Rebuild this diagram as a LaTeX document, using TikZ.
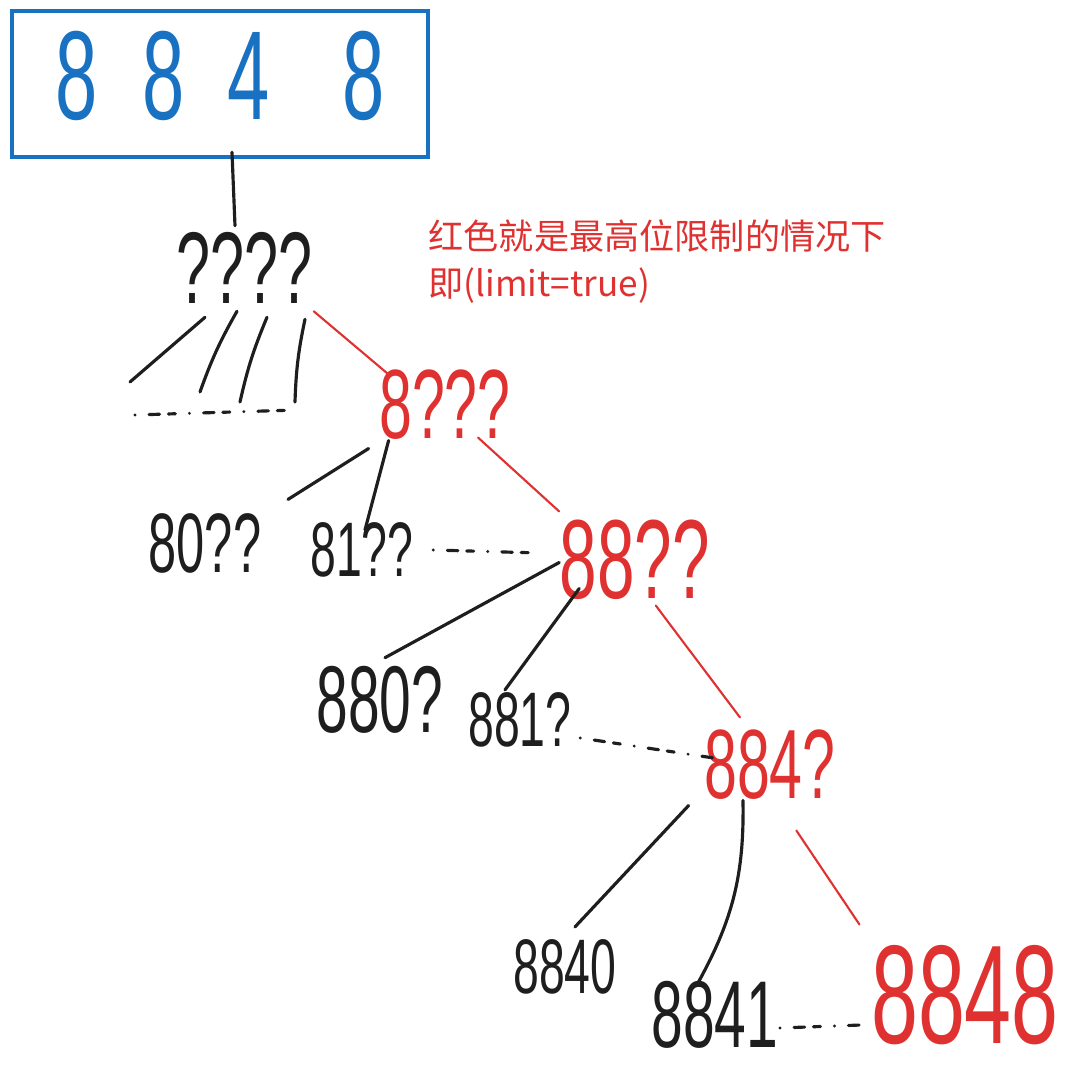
\documentclass[tikz,border=0pt]{standalone}
\usepackage{fontspec}
\setmainfont{Liberation Sans}
\newfontfamily\cjk{Noto Sans CJK SC}
\usepackage{graphicx}
\usetikzlibrary{calc}
\definecolor{inkblack}{HTML}{1E1E1E}
\definecolor{inkred}{HTML}{E03131}
\definecolor{inkblue}{HTML}{1971C2}
\newcommand{\sq}[1]{\scalebox{0.6}[1]{#1}}

\begin{document}
\begin{tikzpicture}[x=0.1mm, y=-0.1mm,
        num/.style={inner sep=0pt, text=inkblack, font=\fontsize{#1}{#1}\selectfont},
        rnum/.style={num=#1, text=inkred},
        tline/.style={draw=inkblack, line width=0.9pt, line cap=round},
        rline/.style={draw=inkred, line width=0.6pt, line cap=round},
        dline/.style={tline, dash pattern=on 0pt off 4pt on 3pt off 2.5pt on 2pt off 4pt}]

        \useasboundingbox (0,0) rectangle (1069,1068);

        \node (root) [draw=inkblue, line width=1.2pt, inner sep=2mm, minimum width=41.6mm, minimum height=14.3mm, text depth=1.8mm, text=inkblue, font=\fontsize{36}{36}\selectfont] at (220,84) {\sq{8}\hspace{4.5mm}\sq{8}\hspace{4.3mm}\sq{4}\hspace{7.2mm}\sq{8}};
        \node (note) [anchor=west, align=left, inner sep=0pt, text=inkred, font=\cjk\fontsize{10}{13.4}\selectfont] at (428,262) {红色就是最高位限制的情况下\\即(limit=true)};

        \node (q) [num=29] at (245,268) {\sq{????}};
        \node (n8) [rnum=28] at (445,405) {\sq{8???}};
        \node (n80) [num=24] at (205,543) {\sq{80??}};
        \node (n81) [num=22] at (362,550) {\sq{81??}};
        \node (n88) [rnum=32] at (635,560) {\sq{88??}};
        \node (n880) [num=27] at (380,700) {\sq{880?}};
        \node (n881) [num=22] at (520,720) {\sq{881?}};
        \node (n884) [rnum=28] at (770,765) {\sq{884?}};
        \node (n8840) [num=22] at (565,967) {\sq{8840}};
        \node (n8841) [num=27] at (715,1015) {\sq{8841}};
        \node (n8848) [rnum=40] at (965,995) {\sq{8848}};

        \coordinate (e1) at (130,382);
        \coordinate (e2) at (200,392);
        \coordinate (e3) at (240,402);
        \coordinate (e4) at (295,402);
        \coordinate (dl) at (135,415);
        \coordinate (dr) at (297,410);

        \draw [tline] ($(root.south)+(12,-7)$) -- ($(q.north)+(-10,-6)$);
        \draw [tline] ($(q.south)+(-40,13)$) -- (e1);
        \draw [tline] ($(q.south)+(-8,7)$) to[bend right=5] (e2);
        \draw [tline] ($(q.south)+(22,13)$) to[bend right=5] (e3);
        \draw [tline] ($(q.south)+(60,15)$) to[bend right=5] (e4);
        \draw [dline] (dl) -- (dr);

        \draw [rline] ($(q.south east)+(0,7)$) -- ($(n8.north west)+(10,5)$);
        \draw [tline] ($(n8.south west)+(-10,8)$) -- ($(n80.north east)+(26,-13)$);
        \draw [tline] ($(n8.south west)+(10,0)$) -- ($(n81.north)+(3,8)$);
        \draw [rline] ($(n8.south)+(33,-3)$) -- ($(n88.north west)+(0,-8)$);
        \draw [dline] ($(n81.east)+(19,0)$) -- ($(n88.west)+(-20,-7)$);

        \draw [tline] ($(n88.south west)+(0,-38)$) -- ($(n880.north)+(5,-8)$);
        \draw [tline] ($(n88.south west)+(20,-12)$) -- ($(n881.north)+(-15,-2)$);
        \draw [rline] ($(n88.south east)+(-55,5)$) -- ($(n884.north)+(-30,-12)$);
        \draw [dline] ($(n881.east)+(8,18)$) -- ($(n884.west)+(10,-7)$);

        \draw [tline] ($(n884.south west)+(-15,5)$) -- ($(n8840.north)+(10,-12)$);
        \draw [tline] ($(n884.south)+(-27,0)$) to[bend left=15] ($(n8841.north)+(-18,4)$);
        \draw [rline] ($(n884.south east)+(-40,30)$) -- ($(n8848.north west)+(-11,-20)$);
        \draw [dline] ($(n8841.east)+(1,13)$) -- ($(n8848.west)+(-9,30)$);
    \end{tikzpicture}
\end{document}
